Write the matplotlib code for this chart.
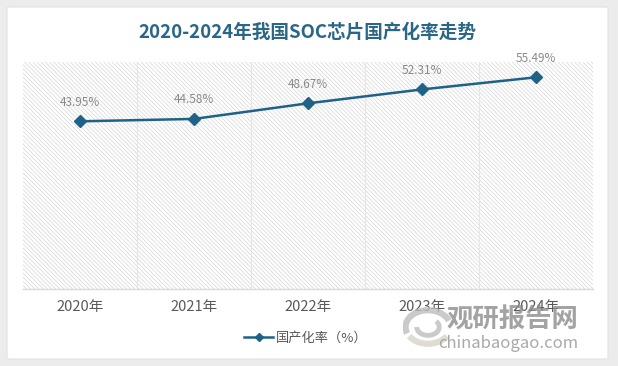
import matplotlib
matplotlib.use("Agg")
import matplotlib.pyplot as plt
from matplotlib.patches import Rectangle, FancyBboxPatch, Arc
from matplotlib.lines import Line2D

plt.rcParams['font.family'] = ['Noto Sans CJK SC', 'DejaVu Sans']
plt.rcParams['hatch.linewidth'] = 0.5
plt.rcParams['hatch.color'] = '#d6d6d6'

years = ['2020年', '2021年', '2022年', '2023年', '2024年']
rates = [43.95, 44.58, 48.67, 52.31, 55.49]
labels = ['43.95%', '44.58%', '48.67%', '52.31%', '55.49%']
title = '2020-2024年我国SOC芯片国产化率走势'
series_name = '国产化率（%）'

W, H = 618, 366
fig = plt.figure(figsize=(W / 100, H / 100), dpi=100)
fig.patch.set_facecolor('#ececec')

card = FancyBboxPatch((7 / W, 7 / H), 601 / W, 352 / H,
                      boxstyle='round,pad=0,rounding_size=0.004',
                      transform=fig.transFigure, facecolor='white',
                      edgecolor='#e2e2e2', linewidth=0.8, zorder=-10)
fig.patches.append(card)

ax = fig.add_axes([23 / W, (H - 289) / H, 570 / W, 227 / H])
ax.set_zorder(1)
ax.set_facecolor('white')
ax.add_patch(Rectangle((0, 0), 1, 1, transform=ax.transAxes, facecolor='white',
                       hatch='\\' * 8, edgecolor='#d6d6d6', linewidth=0, zorder=0))

x = list(range(len(years)))
color = '#1f6287'
ax.plot(x, rates, color=color, linewidth=1.8, marker='D', markersize=6,
        markerfacecolor=color, markeredgecolor=color, zorder=3)
for xi, yi, lb in zip(x, rates, labels):
    ax.annotate(lb, (xi, yi), xytext=(0, 9), textcoords='offset points',
                ha='center', va='bottom', fontsize=8.5, color='#8a8a8a')

ax.set_xlim(-0.5, len(years) - 0.5)
ax.set_ylim(0, 59.5)
ax.set_yticks([])
ax.set_xticks(x)
ax.set_xticklabels(years, fontsize=10.5, color='#595959')
ax.tick_params(axis='x', length=0, pad=8)
for b in [i + 0.5 for i in range(len(years) - 1)]:
    ax.axvline(b, color='#e6e6e6', linewidth=0.8, zorder=1)
for s in ['top', 'left', 'right']:
    ax.spines[s].set_visible(False)
ax.spines['bottom'].set_color('#d9d9d9')
ax.spines['bottom'].set_linewidth(1.0)

fig.text(307 / W, 1 - 32 / H, title, ha='center', va='center', fontsize=13.4,
         fontweight='bold', color='#2a6787')

handle = Line2D([], [], color=color, linewidth=1.8, marker='D', markersize=4.5,
                markerfacecolor=color, markeredgecolor=color)
leg = fig.legend([handle], [series_name], loc='center',
                 bbox_to_anchor=(306 / W, 1 - 338 / H), frameon=False,
                 fontsize=9.5, handlelength=2.2, handletextpad=0.2)
for t in leg.get_texts():
    t.set_color('#595959')

# watermark
wm = fig.add_axes([403 / W, (H - 348) / H, 50 / W, 42 / H])
wm.set_xlim(-1, 1)
wm.set_ylim(-1, 1)
wm.axis('off')
wm.set_zorder(2)
wm.add_patch(Arc((0, 0), 1.8, 1.6, theta1=20, theta2=200, color='#bdbdbd', lw=4.5, alpha=0.8))
wm.add_patch(Arc((0, 0), 1.8, 1.6, theta1=210, theta2=330, color='#d8d4c8', lw=4.5, alpha=0.8))
wm.add_patch(Arc((0, 0), 0.9, 0.8, theta1=180, theta2=400, color='#bdbdbd', lw=3.5, alpha=0.8))

fig.text(578 / W, 1 - 320 / H, '观研报告网', ha='right', va='center', fontsize=19,
         fontweight='bold', color='#8c8c8c', alpha=0.8, zorder=3)
fig.text(578 / W, 1 - 343 / H, 'chinabaogao.com', ha='right', va='center', fontsize=12,
         color='#9a9a9a', alpha=0.85, zorder=3)

fig.savefig('out.png', dpi=100, facecolor=fig.get_facecolor())
